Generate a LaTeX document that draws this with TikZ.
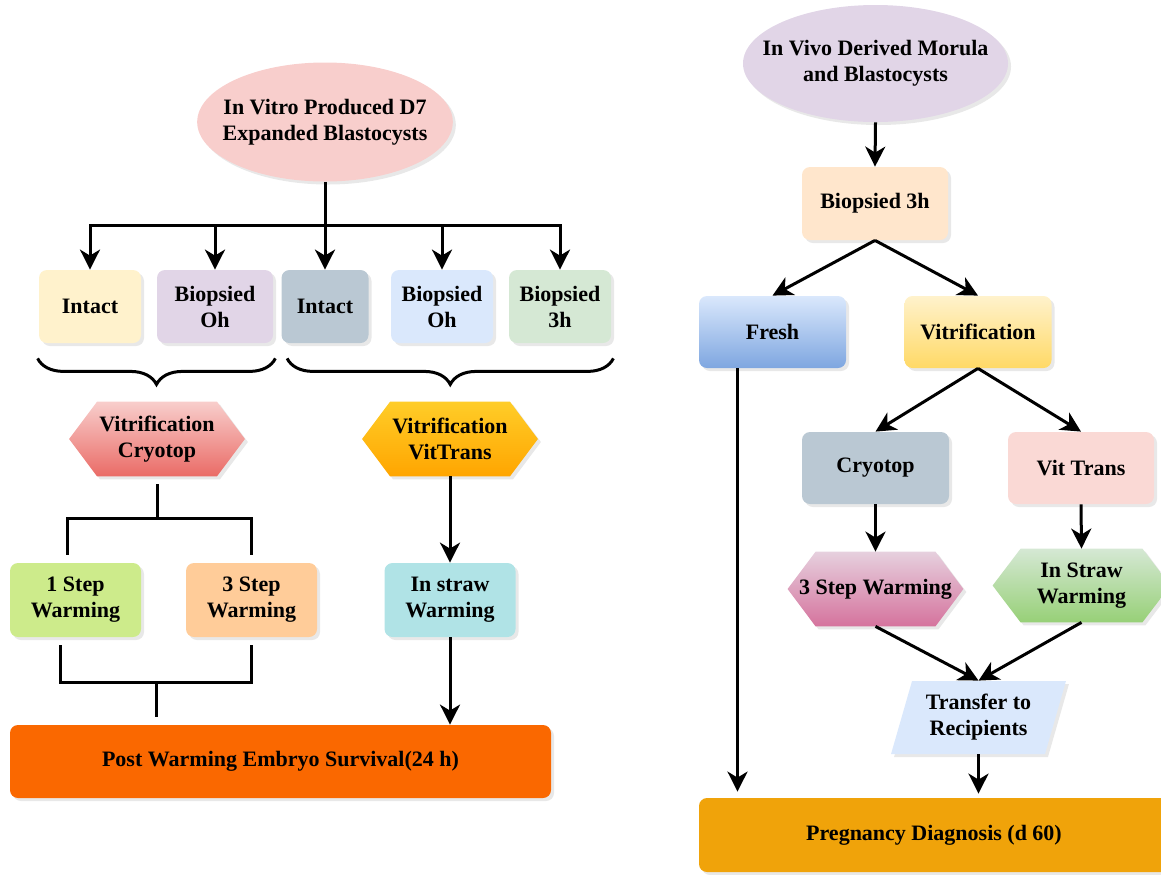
\documentclass[tikz,border=0pt]{standalone}
\usepackage{fontspec}
\setmainfont{Liberation Serif}
\usetikzlibrary{shapes.geometric,arrows.meta,shadows,decorations.pathreplacing,calc,backgrounds}

\definecolor{pinkfill}{HTML}{F8CECC}
\definecolor{redgrad}{HTML}{EA6B66}
\definecolor{cream}{HTML}{FFF2CC}
\definecolor{lilac}{HTML}{E1D5E7}
\definecolor{slate}{HTML}{BAC8D3}
\definecolor{skyblue}{HTML}{DAE8FC}
\definecolor{mint}{HTML}{D5E8D4}
\definecolor{goldA}{HTML}{FFCD28}
\definecolor{goldB}{HTML}{FFA500}
\definecolor{lime}{HTML}{CDEB8B}
\definecolor{peach}{HTML}{FFCC99}
\definecolor{aqua}{HTML}{B0E3E6}
\definecolor{survival}{HTML}{FA6800}
\definecolor{apricot}{HTML}{FFE6CC}
\definecolor{blueB}{HTML}{7EA6E0}
\definecolor{yellowB}{HTML}{FFD966}
\definecolor{rosefill}{HTML}{FAD9D5}
\definecolor{mauveA}{HTML}{E6D0DE}
\definecolor{mauveB}{HTML}{D5739D}
\definecolor{greenB}{HTML}{97D077}
\definecolor{amber}{HTML}{F0A30A}

\begin{document}
\begin{tikzpicture}[x=0.5pt, y=-0.5pt,
  txt/.style={font=\fontsize{11}{13}\selectfont\bfseries, align=center, inner sep=1pt},
  shade/.style={drop shadow={shadow xshift=1.5pt, shadow yshift=-1.5pt, opacity=0.18}},
  box/.style={txt, shade, rectangle, rounded corners=4pt, minimum height=36.5pt},
  oval/.style={txt, shade, ellipse, inner ysep=0pt},
  hexbox/.style={txt, minimum width=87.5pt, minimum height=37pt},
  slanted/.style={txt, shade, trapezium, trapezium left angle=71, trapezium right angle=109,
    trapezium stretches=true, minimum width=87.5pt, minimum height=36.5pt},
  wire/.style={line width=1.5pt},
  link/.style={wire, shorten >=4pt},
  arr/.style={wire, -{Stealth[length=10pt, width=10pt, inset=3pt]}},
  curly/.style={wire, decorate, decoration={brace, amplitude=13pt}}
]
  \useasboundingbox (0,0) rectangle (1161,874);

  % ====================================================
  % LEFT PANEL: IN VITRO PRODUCED EMBRYOS
  % ====================================================

  % source and the five groups
  \node[oval, fill=pinkfill, inner xsep=-6pt, minimum width=125.5pt, minimum height=59.5pt] (vitro) at (325,122)
    {In Vitro Produced D7\\Expanded Blastocysts};
  \coordinate (splitT) at (325,225);

  \node[box, fill=cream, minimum width=51pt] (intA) at (90,306.5) {Intact};
  \node[box, fill=lilac, minimum width=58pt] (bioA) at (215,306.5) {Biopsied\\Oh};
  \node[box, fill=slate, minimum width=43.5pt] (intB) at (325,306.5) {Intact};
  \node[box, fill=skyblue, minimum width=51pt] (bioB) at (442,306.5) {Biopsied\\Oh};
  \node[box, fill=mint, minimum width=51pt] (bioC) at (560,306.5) {Biopsied\\3h};

  \draw[wire] (vitro.south) -- (splitT);
  \foreach \g in {intA,bioA,intB,bioB,bioC}
    \draw[arr] (splitT) -| (\g.north);

  % braces under the two sets
  \draw[curly] ($(bioA.south east)+(2,15)$) -- ($(intA.south west)+(-1,15)$);
  \draw[curly] ($(bioC.south east)+(2,15)$) -- ($(intB.south west)+(6,15)$);

  % vitrification devices
  \node[hexbox] (vcryo) at (157,439) {Vitrification\\Cryotop};
  \node[hexbox] (vtrans) at (450,439) {Vitrification\\VitTrans};

  % warming
  \coordinate (splitC) at (157,518);
  \node[box, fill=lime, minimum width=65.5pt, minimum height=37pt] (oneW) at (75.5,600) {1 Step\\Warming};
  \node[box, fill=peach, minimum width=65.5pt, minimum height=37pt] (threeW) at (251.5,600) {3 Step\\Warming};
  \node[box, fill=aqua, minimum width=65.5pt, minimum height=37pt] (strawW) at (450,600) {In straw\\Warming};

  \draw[wire, shorten <=4pt] (vcryo.south) -- (splitC);
  \draw[link] (splitC) -| ([xshift=-4pt]oneW.north);
  \draw[link] (splitC) -| (threeW.north);
  \draw[arr] (vtrans.south) -- (strawW.north);

  % survival
  \coordinate (mergeC) at (156,682);
  \node[box, fill=survival, minimum width=270.5pt] (post) at (280.5,761.5) {Post Warming Embryo Survival(24 h)};

  \draw[wire, shorten <=4pt] ([xshift=-7.5pt]oneW.south) |- (mergeC);
  \draw[wire, shorten <=4pt] (threeW.south) |- (mergeC);
  \draw[link] (mergeC) -- (mergeC |- post.north);
  \draw[arr] (strawW.south) -- (strawW.south |- post.north);

  % ====================================================
  % RIGHT PANEL: IN VIVO DERIVED EMBRYOS
  % ====================================================

  \node[oval, fill=lilac, inner xsep=-10pt, minimum width=132.5pt, minimum height=58.5pt] (vivo) at (875.5,63.5)
    {In Vivo Derived Morula\\and Blastocysts};
  \node[box, fill=apricot, minimum width=73pt] (bioR) at (875,203.5) {Biopsied 3h};

  \node[box, top color=skyblue, bottom color=blueB, minimum width=73.5pt, minimum height=36pt] (fresh) at (772.5,332) {Fresh};
  \node[box, top color=cream, bottom color=yellowB, minimum width=73.5pt, minimum height=36pt] (vitri) at (978,332) {Vitrification};

  \node[box, fill=slate, minimum width=73.5pt, minimum height=36pt] (cryo) at (875.5,468) {Cryotop};
  \node[box, fill=rosefill, minimum width=73pt, minimum height=36pt] (vitT) at (1081,468) {Vit Trans};

  \node[hexbox] (warmC) at (875.5,589) {3 Step Warming};
  \node[hexbox, minimum width=88.5pt, minimum height=36.5pt] (warmS) at (1081.5,585.5) {In Straw\\Warming};

  \node[slanted, fill=skyblue] (transfer) at (978.5,717.5) {Transfer to\\Recipients};
  \node[box, fill=amber, minimum width=235pt, minimum height=37pt] (preg) at (934,835) {Pregnancy Diagnosis (d 60)};

  \draw[arr] (vivo.south) -- (bioR.north);
  \draw[arr] (bioR.south) -- (fresh.north);
  \draw[arr] (bioR.south) -- (vitri.north);
  \draw[arr] (vitri.south) -- (cryo.north);
  \draw[arr] (vitri.south) -- (vitT.north);
  \draw[arr] (cryo.south) -- (warmC.north);
  \draw[arr] (vitT.south) -- (warmS.north);
  \draw[arr] (warmC.south) -- (transfer.north -| transfer.center);
  \draw[arr] (warmS.south) -- (transfer.north -| transfer.center);
  \draw[arr, shorten >=2pt] (transfer.south -| transfer.center) -- (transfer.center |- preg.north);
  \draw[arr, shorten >=3pt] ([xshift=-17.5pt]fresh.south) -- ([xshift=-17.5pt]fresh.south |- preg.north);

  % hexagon bodies behind their texts
  \begin{scope}[on background layer]
    \foreach \h/\c/\d in {vcryo/pinkfill/redgrad, vtrans/goldA/goldB, warmC/mauveA/mauveB, warmS/mint/greenB}
      \path[shade, top color=\c, bottom color=\d]
        (\h.west) -- ([xshift=14pt]\h.north west) -- ([xshift=-14pt]\h.north east)
        -- (\h.east) -- ([xshift=-14pt]\h.south east) -- ([xshift=14pt]\h.south west) -- cycle;
  \end{scope}
\end{tikzpicture}
\end{document}
